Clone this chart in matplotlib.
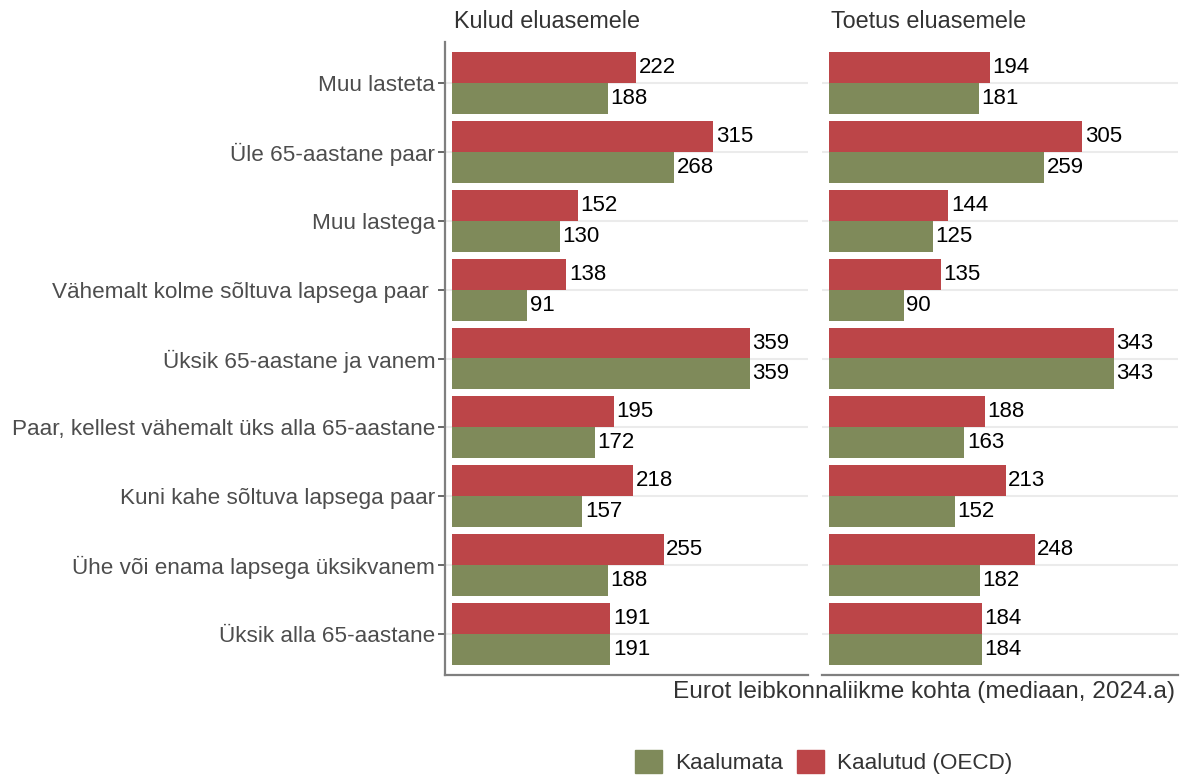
import numpy as np
import matplotlib
matplotlib.use("Agg")
import matplotlib.pyplot as plt
from matplotlib.patches import Patch

plt.rcParams['font.family'] = ['Liberation Sans', 'DejaVu Sans']

categories = ["Muu lasteta", "Üle 65-aastane paar", "Muu lastega",
              "Vähemalt kolme sõltuva lapsega paar ", "Üksik 65-aastane ja vanem",
              "Paar, kellest vähemalt üks alla 65-aastane", "Kuni kahe sõltuva lapsega paar",
              "Ühe või enama lapsega üksikvanem", "Üksik alla 65-aastane"]
panels = ["Kulud eluasemele", "Toetus eluasemele"]
kulud_weighted = [222, 315, 152, 138, 359, 195, 218, 255, 191]
kulud_unweighted = [188, 268, 130, 91, 359, 172, 157, 188, 191]
toetus_weighted = [194, 305, 144, 135, 343, 188, 213, 248, 184]
toetus_unweighted = [181, 259, 125, 90, 343, 163, 152, 182, 184]

red = "#bc4548"
green = "#7f8a5a"
txt = "#4d4d4d"

W, H = 1180, 777
fig = plt.figure(figsize=(11.8, 7.77), dpi=100)
top, bottom = 42, 675
ax1 = fig.add_axes([445 / W, 1 - bottom / H, (808 - 445) / W, (bottom - top) / H])
ax2 = fig.add_axes([822 / W, 1 - bottom / H, (1178 - 822) / W, (bottom - top) / H])

y = np.arange(len(categories))
h = 0.45
for ax, title, wv, uv, xmax in [(ax1, panels[0], kulud_weighted, kulud_unweighted, 429),
                                (ax2, panels[1], toetus_weighted, toetus_unweighted, 420.5)]:
    ax.barh(y - h / 2, wv, height=h, color=red, zorder=2)
    ax.barh(y + h / 2, uv, height=h, color=green, zorder=2)
    for yi, v in zip(y, wv):
        ax.text(v + 3, yi - h / 2, str(v), va='center', ha='left', fontsize=16, color='black')
    for yi, v in zip(y, uv):
        ax.text(v + 3, yi + h / 2, str(v), va='center', ha='left', fontsize=16, color='black')
    ax.set_xlim(-8.4, xmax)
    ax.set_ylim(len(categories) - 0.4, -0.6)
    ax.set_yticks(y)
    ax.yaxis.grid(True, color='#ebebeb', linewidth=1.5, zorder=0)
    ax.set_axisbelow(True)
    ax.set_xticks([])
    for s in ['top', 'right', 'left']:
        ax.spines[s].set_visible(False)
    ax.spines['bottom'].set_color('#7f7f7f')
    ax.spines['bottom'].set_linewidth(1.6)
    ax.set_title(title, loc='left', fontsize=16.8, color='#333333', pad=10, x=0.025)

ax1.spines['left'].set_visible(True)
ax1.spines['left'].set_color('#7f7f7f')
ax1.spines['left'].set_linewidth(1.6)
ax1.set_yticklabels(categories, fontsize=16.2, color=txt)
ax1.tick_params(axis='y', length=5, width=1.2, color='#4d4d4d', pad=2)
ax2.tick_params(axis='y', length=0, labelleft=False)

fig.text(1175 / W, 1 - 692 / H, "Eurot leibkonnaliikme kohta (mediaan, 2024.a)",
         ha='right', va='center', fontsize=17.6, color='#333333')

handles = [Patch(color=green, label="Kaalumata"), Patch(color=red, label="Kaalutud (OECD)")]
fig.legend(handles=handles, loc='center', bbox_to_anchor=(0.698, 1 - 762 / H), ncol=2,
           frameon=False, fontsize=16.2, handlelength=1.2, handleheight=1.2,
           handletextpad=0.6, columnspacing=0.6, labelcolor='#333333')

fig.savefig("out.png", dpi=100)
